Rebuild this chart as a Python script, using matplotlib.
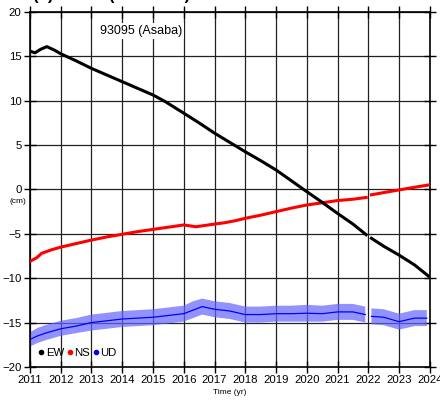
import numpy as np
import matplotlib
matplotlib.use('Agg')
import matplotlib.pyplot as plt
from matplotlib.lines import Line2D

plt.rcParams['font.family'] = ['Liberation Sans', 'DejaVu Sans']

# EW displacement (cm); nan marks the data gap at 2022
ew_t = [2011.0, 2011.16, 2011.35, 2011.55, 2011.8, 2012.0, 2012.5, 2013.0, 2013.5,
        2014.0, 2014.5, 2015.0, 2015.4, 2016.0, 2016.5, 2017.0, 2017.5, 2018.0,
        2018.5, 2019.0, 2019.45, 2020.0, 2020.5, 2021.0, 2021.5, 2021.93, 2022.0,
        2022.1, 2022.5, 2023.0, 2023.5, 2023.95]
ew_v = [15.6, 15.4, 15.8, 16.1, 15.7, 15.3, 14.5, 13.65, 12.9,
        12.15, 11.4, 10.65, 9.9, 8.6, 7.5, 6.35, 5.3, 4.25,
        3.25, 2.2, 1.1, -0.25, -1.45, -2.7, -3.9, -5.1, np.nan,
        -5.5, -6.4, -7.4, -8.5, -9.75]

# NS displacement (cm)
ns_t = [2011.0, 2011.22, 2011.38, 2011.7, 2012.0, 2012.5, 2013.0, 2013.5, 2014.0,
        2014.5, 2015.0, 2015.5, 2016.0, 2016.4, 2017.0, 2017.33, 2017.7, 2018.0,
        2018.5, 2019.0, 2019.5, 2020.0, 2020.5, 2021.0, 2021.5, 2021.93, 2022.0,
        2022.1, 2022.5, 2023.0, 2023.5, 2023.95]
ns_v = [-8.1, -7.7, -7.2, -6.8, -6.5, -6.1, -5.7, -5.35, -5.05,
        -4.75, -4.5, -4.25, -4.0, -4.2, -3.9, -3.75, -3.5, -3.25,
        -2.9, -2.5, -2.1, -1.75, -1.5, -1.25, -1.1, -0.9, np.nan,
        -0.6, -0.35, -0.05, 0.25, 0.5]

# UD displacement (cm): centre of the scatter and its upper / lower envelope
ud_t = [2011.0, 2011.25, 2011.5, 2012.0, 2012.5, 2013.0, 2013.5, 2014.0, 2014.5,
        2015.0, 2015.5, 2016.0, 2016.3, 2016.6, 2017.0, 2017.5, 2018.0, 2018.5,
        2019.0, 2019.5, 2020.0, 2020.5, 2021.0, 2021.5, 2021.9, 2022.0,
        2022.1, 2022.5, 2023.0, 2023.5, 2023.9]
ud_v = [-16.9, -16.5, -16.2, -15.7, -15.4, -15.0, -14.8, -14.6, -14.5,
        -14.4, -14.2, -14.0, -13.6, -13.2, -13.5, -13.7, -14.1, -14.1,
        -14.0, -14.0, -13.95, -14.0, -13.8, -13.8, -14.1, np.nan,
        -14.3, -14.4, -14.9, -14.5, -14.5]
ud_hi = [-16.1, -15.6, -15.3, -14.8, -14.5, -14.1, -13.9, -13.7, -13.6,
         -13.5, -13.3, -13.1, -12.6, -12.3, -12.6, -12.8, -13.2, -13.2,
         -13.1, -13.1, -13.0, -13.1, -12.9, -12.9, -13.2, np.nan,
         -13.4, -13.5, -14.0, -13.6, -13.6]
ud_lo = [-17.7, -17.3, -17.0, -16.5, -16.2, -15.9, -15.7, -15.5, -15.4,
         -15.3, -15.1, -14.9, -14.5, -14.1, -14.4, -14.6, -15.0, -15.0,
         -14.9, -14.9, -14.9, -14.9, -14.7, -14.7, -15.0, np.nan,
         -15.2, -15.3, -15.8, -15.4, -15.4]

years = list(range(2011, 2025))
yticks = [-20, -15, -10, -5, 0, 5, 10, 15, 20]

fig = plt.figure(figsize=(4.4, 4.01), dpi=100)
ax = fig.add_axes([0.068, 0.085, 0.909, 0.885])

ax.fill_between(ud_t, ud_lo, ud_hi, color='#6464ff', alpha=0.7, lw=0, zorder=2)
ax.plot(ud_t, ud_v, color='#0000ff', lw=0.9, zorder=2)
ax.plot(ns_t, ns_v, color='#ff0000', lw=2.2, zorder=3)
ax.plot(ew_t, ew_v, color='black', lw=2.2, zorder=3)

ax.set_xlim(2011, 2024)
ax.set_ylim(-20, 20)
ax.set_xticks(years)
ax.set_yticks(yticks)
ax.grid(True, color='#222222', lw=0.9)
ax.set_axisbelow(True)
ax.tick_params(direction='inout', length=8, width=1, labelsize=8.2,
               top=True, right=True, pad=2)
for s in ax.spines.values():
    s.set_linewidth(1.2)

ax.text(2014.6, 17.85, '93095 (Asaba)', fontsize=9, ha='center', va='center',
        bbox=dict(facecolor='white', edgecolor='none', pad=1.5), zorder=4)

handles = [Line2D([], [], ls='none', marker='o', ms=3, color=c)
           for c in ['black', 'red', 'blue']]
ax.legend(handles, ['EW', 'NS', 'UD'], loc='lower left', bbox_to_anchor=(0.0, 0.0),
          ncol=3, frameon=False, fontsize=8.2, handlelength=0.4, handletextpad=0.2,
          columnspacing=0.3, borderpad=0.3)

fig.text(0.04, 0.497, '(cm)', fontsize=6, ha='center', va='center')
fig.text(0.523, 0.02, 'Time (yr)', fontsize=6, ha='center', va='center')
fig.text(0.075, 1.012, '(c) 93095 (GEONET)', fontsize=12, fontweight='bold',
         ha='left', va='center')

fig.savefig('out.png', dpi=100)
